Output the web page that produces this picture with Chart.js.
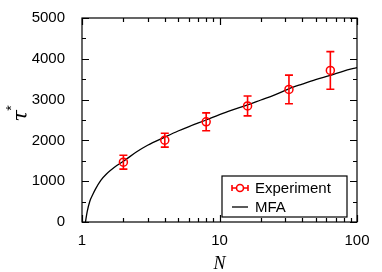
<!DOCTYPE html>
<html>
<head>
<meta charset="utf-8">
<script src="https://cdn.jsdelivr.net/npm/chart.js@4.4.0/dist/chart.umd.min.js"></script>
<style>
html, body { margin: 0; padding: 0; background: #fff; }
</style>
</head>
<body>
<canvas id="chart" width="382" height="272"></canvas>
<script>
// Experiment (red circles with error bars)
const expN   = [2, 4, 8, 16, 32, 64];
const expTau = [1465, 2005, 2455, 2845, 3250, 3715];
const expErr = [170, 170, 220, 245, 350, 460];

// MFA curve
const mfaN   = [1.06, 1.09, 1.14, 1.2, 1.25, 1.37, 1.5, 1.79, 2, 2.5, 3, 4, 5, 6, 8, 10, 12, 16, 20, 25, 32, 40, 50, 64, 80, 100];
const mfaTau = [0, 250, 510, 680, 800, 1020, 1170, 1383, 1490, 1720, 1880, 2080, 2230, 2340, 2500, 2630, 2730, 2870, 2990, 3110, 3265, 3380, 3490, 3595, 3700, 3786];

// Axes
const xTickLabels = [1, 10, 100];
const xMinorTicks = [2, 3, 4, 5, 6, 7, 8, 9, 20, 30, 40, 50, 60, 70, 80, 90];
const yTickLabels = [0, 1000, 2000, 3000, 4000, 5000];
const yMinorTicks = [500, 1500, 2500, 3500, 4500];

const RED = '#ff0000';
const FONT = '"Liberation Sans", Arial, sans-serif';

// Error bars for experiment points
const errorBars = {
    id: 'errorBars',
    afterDatasetsDraw(chart) {
        const ctx = chart.ctx, xs = chart.scales.x, ys = chart.scales.y;
        ctx.save();
        ctx.strokeStyle = RED;
        ctx.lineWidth = 1.6;
        ctx.beginPath();
        expN.forEach((n, i) => {
            const px = xs.getPixelForValue(n);
            const top = ys.getPixelForValue(expTau[i] + expErr[i]);
            const bot = ys.getPixelForValue(expTau[i] - expErr[i]);
            ctx.moveTo(px, top); ctx.lineTo(px, bot);
            ctx.moveTo(px - 4, top); ctx.lineTo(px + 4, top);
            ctx.moveTo(px - 4, bot); ctx.lineTo(px + 4, bot);
        });
        ctx.stroke();
        ctx.restore();
    }
};

// Frame with inward ticks, y title and boxed legend
const frame = {
    id: 'frame',
    afterDraw(chart) {
        const ctx = chart.ctx, a = chart.chartArea, xs = chart.scales.x, ys = chart.scales.y;
        ctx.save();
        ctx.strokeStyle = '#000';
        ctx.lineWidth = 1.2;
        ctx.strokeRect(a.left, a.top, a.right - a.left, a.bottom - a.top);

        ctx.beginPath();
        xTickLabels.forEach(v => {
            const px = Math.round(xs.getPixelForValue(v)) + 0.5;
            ctx.moveTo(px, a.bottom); ctx.lineTo(px, a.bottom - 7);
            ctx.moveTo(px, a.top); ctx.lineTo(px, a.top + 7);
        });
        xMinorTicks.forEach(v => {
            const px = Math.round(xs.getPixelForValue(v)) + 0.5;
            ctx.moveTo(px, a.bottom); ctx.lineTo(px, a.bottom - 4);
            ctx.moveTo(px, a.top); ctx.lineTo(px, a.top + 4);
        });
        yTickLabels.forEach(v => {
            const py = Math.round(ys.getPixelForValue(v)) + 0.5;
            ctx.moveTo(a.left, py); ctx.lineTo(a.left + 7, py);
            ctx.moveTo(a.right, py); ctx.lineTo(a.right - 7, py);
        });
        yMinorTicks.forEach(v => {
            const py = Math.round(ys.getPixelForValue(v)) + 0.5;
            ctx.moveTo(a.left, py); ctx.lineTo(a.left + 4, py);
            ctx.moveTo(a.right, py); ctx.lineTo(a.right - 4, py);
        });
        ctx.stroke();

        // y title: tau with superscript star, rotated
        ctx.save();
        ctx.translate(22, 116);
        ctx.rotate(-Math.PI / 2);
        ctx.fillStyle = '#000';
        ctx.textBaseline = 'middle';
        ctx.textAlign = 'center';
        ctx.font = 'italic 21px "DejaVu Serif", "Liberation Serif", serif';
        ctx.fillText('τ', 0, 0);
        ctx.font = '14px "Liberation Sans", Arial, sans-serif';
        ctx.fillText('*', 8, -10);
        ctx.restore();

        // legend
        const bx = a.right - 135, by = a.bottom - 46, bw = 125, bh = 41;
        ctx.fillStyle = '#fff';
        ctx.fillRect(bx, by, bw, bh);
        ctx.lineWidth = 1.2;
        ctx.strokeRect(bx, by, bw, bh);
        const sx = bx + 10, ex = bx + 26, tx = bx + 33;
        const r1 = by + 12, r2 = by + 31;
        ctx.strokeStyle = RED;
        ctx.lineWidth = 1.6;
        ctx.beginPath();
        ctx.moveTo(sx, r1); ctx.lineTo(ex, r1);
        ctx.moveTo(sx, r1 - 3); ctx.lineTo(sx, r1 + 3);
        ctx.moveTo(ex, r1 - 3); ctx.lineTo(ex, r1 + 3);
        ctx.stroke();
        ctx.beginPath();
        ctx.arc((sx + ex) / 2, r1, 3.5, 0, Math.PI * 2);
        ctx.fillStyle = '#fff';
        ctx.fill();
        ctx.stroke();
        ctx.strokeStyle = '#000';
        ctx.lineWidth = 1.3;
        ctx.beginPath();
        ctx.moveTo(sx, r2); ctx.lineTo(ex, r2);
        ctx.stroke();
        ctx.fillStyle = '#000';
        ctx.font = '15px ' + FONT;
        ctx.textBaseline = 'middle';
        ctx.textAlign = 'left';
        ctx.fillText(chart.data.datasets[0].label, tx, r1 + 1);
        ctx.fillText(chart.data.datasets[1].label, tx, r2 + 1);
        ctx.restore();
    }
};

new Chart(document.getElementById('chart'), {
    type: 'scatter',
    data: {
        datasets: [{
            label: 'Experiment',
            data: expN.map((n, i) => ({ x: n, y: expTau[i] })),
            showLine: false,
            pointStyle: 'circle',
            pointRadius: 4,
            pointBorderWidth: 1.5,
            borderColor: RED,
            backgroundColor: 'rgba(0,0,0,0)',
            order: 0
        }, {
            label: 'MFA',
            data: mfaN.map((n, i) => ({ x: n, y: mfaTau[i] })),
            showLine: true,
            borderColor: '#000',
            borderWidth: 1.3,
            pointRadius: 0,
            tension: 0.4,
            cubicInterpolationMode: 'monotone',
            order: 1
        }]
    },
    options: {
        responsive: false,
        animation: false,
        layout: { padding: { left: 0, right: 25, top: 16, bottom: 0 } },
        plugins: {
            legend: { display: false },
            tooltip: { enabled: false }
        },
        scales: {
            x: {
                type: 'logarithmic',
                min: 1,
                max: 100,
                grid: { display: false },
                border: { display: false },
                afterFit: s => { s.height = 50; },
                ticks: {
                    autoSkip: false,
                    maxRotation: 0,
                    padding: 2,
                    color: '#000',
                    font: { family: FONT, size: 15 },
                    callback: v => xTickLabels.includes(v) ? String(v) : ''
                },
                title: {
                    display: true,
                    text: 'N',
                    color: '#000',
                    padding: { top: 0, bottom: -3 },
                    font: { family: '"Liberation Serif", "Times New Roman", serif', style: 'italic', size: 18 }
                }
            },
            y: {
                min: 0,
                max: 5000,
                grid: { display: false },
                border: { display: false },
                afterFit: s => { s.width = 82; },
                ticks: {
                    stepSize: 1000,
                    padding: 9,
                    color: '#000',
                    font: { family: FONT, size: 15 },
                    callback: v => String(v)
                }
            }
        }
    },
    plugins: [errorBars, frame]
});
</script>
</body>
</html>
